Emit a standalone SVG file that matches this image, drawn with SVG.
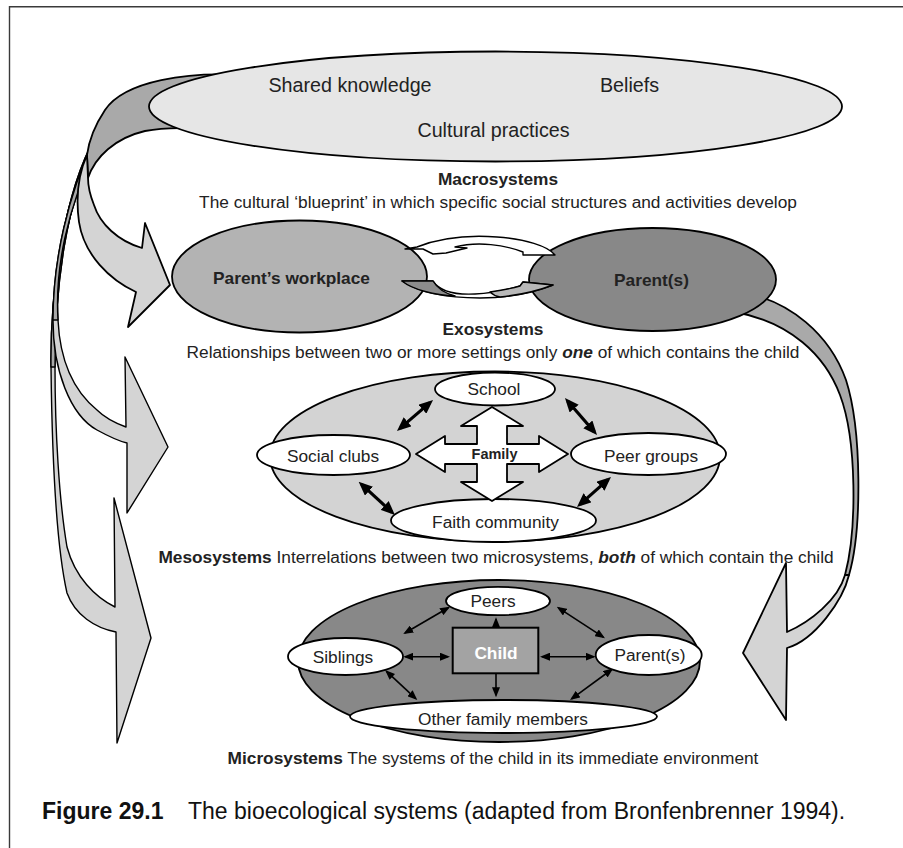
<svg xmlns="http://www.w3.org/2000/svg" width="903" height="848" viewBox="0 0 903 848">
<style>
text{font-family:"Liberation Sans",Arial,Helvetica,sans-serif;fill:#222}
.t17{font-size:17.3px}
.t19{font-size:19.7px}
.b{font-weight:bold}
.bi{font-weight:bold;font-style:italic}
.ol{stroke:#000;stroke-width:1.8;stroke-linejoin:round}
.thin{stroke:#000;stroke-width:1.4;stroke-linejoin:round}
.lite{fill:#d4d4d4}
.dark{fill:#a9a9a9}
.wh{fill:#fff}
.ma{stroke:#000;stroke-width:3.2;fill:none}
.mi{stroke:#000;stroke-width:1.6;fill:none}
</style>
<defs>
<marker id="hb" viewBox="0 0 14 12" markerWidth="14" markerHeight="12" refX="10" refY="6" orient="auto-start-reverse" markerUnits="userSpaceOnUse"><path d="M0,0 L14,6 L0,12 Z" fill="#000"/></marker>
<marker id="hs" viewBox="0 0 10 8" markerWidth="10" markerHeight="8" refX="8" refY="4" orient="auto-start-reverse" markerUnits="userSpaceOnUse"><path d="M0,0 L10,4 L0,8 Z" fill="#000"/></marker>
</defs>
<rect width="903" height="848" fill="#fff"/>
<path d="M9.5,860 L9.5,6.7 L910,6.7" fill="none" stroke="#3a3a3a" stroke-width="1.4"/>

<g id="connectors">
  <!-- left big curved arrows -->
  <g id="arrow-macro-micro">
    <path class="thin lite" d="M95,138 C65,190 50,290 51,367 C52,450 55,540 67,593 C75,615 95,628 116,632 L117,743 L151,638 L114,498 L115,607 C95,597 75,577 67,547 C59,500 55,430 55,367 C55,290 65,200 97,145 Z"/>
    <path class="thin dark" d="M95,138 C65,190 50,290 51,367 L55,367 C55,290 65,200 97,145 Z"/>
  </g>
  <g id="arrow-macro-meso">
    <path class="thin lite" d="M94,141 C68,195 53,260 53,320 C53,370 70,415 97,430 C108,436 118,441 127,443 L127,513 L168,447 L125,357 L126,427 C115,423 105,418 97,410 C75,392 60,362 58,320 C55,270 66,210 97,147 Z"/>
    <path class="thin dark" d="M94,141 C68,195 53,260 53,320 L58,320 C55,270 66,210 97,147 Z"/>
  </g>
  <g id="arrow-macro-exo">
    <path class="ol dark" d="M240,75 C190,72 125,80 105,110 C95,125 89,140 87,155 L88,178 C95,157 115,138 145,131 C170,126 205,128 240,133 Z"/>
    <path class="ol lite" d="M87,155 C78,175 76,200 79,222 C84,255 110,280 136,292 L128,327 L170,285 L145,223 L142,248 C118,241 100,224 94,205 C90,195 88,186 88,178 Z"/>
  </g>
  <!-- right curved arrow from Parent(s) to microsystem -->
  <g id="arrow-exo-micro">
    <path class="ol lite" d="M849,575 C843,600 815,640 787,648 L786,720 L743,653 L786,563 L787,632 C810,622 838,600 845,575 Z"/>
    <path class="ol dark" d="M740,292 C790,300 830,335 846,380 C862,430 862,530 849,575 L845,575 C857,530 857,440 840,395 C825,355 790,322 735,312 Z"/>
  </g>
</g>

<g id="macrosystem">
  <ellipse cx="495.5" cy="106.5" rx="346.5" ry="55" fill="#e6e6e6" stroke="#000" stroke-width="1.8"/>
  <text class="t19" x="350" y="92" text-anchor="middle">Shared knowledge</text>
  <text class="t19" x="629.5" y="92" text-anchor="middle">Beliefs</text>
  <text class="t19" x="493.5" y="136.5" text-anchor="middle">Cultural practices</text>
  <text class="t17 b" x="498" y="185" text-anchor="middle">Macrosystems</text>
  <text class="t17" x="498" y="208" text-anchor="middle">The cultural ‘blueprint’ in which specific social structures and activities develop</text>
</g>

<g id="workplace">
  <ellipse cx="299.5" cy="276.5" rx="127.5" ry="56" fill="#b3b3b3" stroke="#000" stroke-width="1.8"/>
  <text class="t17 b" x="291.5" y="284" text-anchor="middle">Parent’s workplace</text>
</g>
<g id="parents-exo">
  <ellipse cx="652.5" cy="279.5" rx="123.5" ry="51.5" fill="#888" stroke="#000" stroke-width="1.8"/>
  <text class="t17 b" x="651.5" y="286" text-anchor="middle">Parent(s)</text>
</g>

<g id="exo-cycle">
  <path class="thin wh" d="M555,255 L523,255 L523,252 C505,245 478,241 455,247 L467,248 L446,253 L433,254 L423,249 L405,249 L417,247 C440,238 470,235 497,237 C525,239 548,246 555,255 Z"/>
  <path class="thin wh" d="M402,281 L433,281 C440,292 455,295 475,294 C495,293 510,289 520,286 L523,282 L553,285 C535,292 510,298 480,298 C450,298 420,293 402,281 Z"/>
  <path class="thin" fill="#8c8c8c" d="M402,281 L433,281 C437,288 444,293 455,296 C435,295 413,290 402,281 Z"/>
  <path class="thin" fill="#b8b8b8" d="M490,292 C503,290 513,288 520,286 L523,282 L553,285 C540,290 520,295 500,297 C495,296 492,294 490,292 Z"/>
</g>

<g id="exo-label">
  <text class="t17 b" x="493" y="335" text-anchor="middle">Exosystems</text>
  <text class="t17" x="493" y="358" text-anchor="middle">Relationships between two or more settings only <tspan class="bi">one</tspan> of which contains the child</text>
</g>

<g id="mesosystem">
  <ellipse cx="495" cy="456.5" rx="225" ry="85" fill="#d3d3d3" stroke="#000" stroke-width="1.8"/>
</g>
<g id="school">
  <ellipse cx="495" cy="389" rx="60" ry="16.5" fill="#fff" stroke="#000" stroke-width="1.8"/>
  <text class="t17" x="494" y="394.5" text-anchor="middle">School</text>
</g>
<g id="social-clubs">
  <ellipse cx="333.5" cy="455" rx="76.5" ry="20" fill="#fff" stroke="#000" stroke-width="1.8"/>
  <text class="t17" x="333" y="461.5" text-anchor="middle">Social clubs</text>
</g>
<g id="peer-groups">
  <ellipse cx="648.5" cy="454" rx="77.5" ry="21" fill="#fff" stroke="#000" stroke-width="1.8"/>
  <text class="t17" x="651" y="461.5" text-anchor="middle">Peer groups</text>
</g>
<g id="faith-community">
  <ellipse cx="493.5" cy="520.5" rx="102.5" ry="21.5" fill="#fff" stroke="#000" stroke-width="1.8"/>
  <text class="t17" x="495.5" y="527.5" text-anchor="middle">Faith community</text>
</g>
<g id="family">
  <path class="ol wh" d="M492,407 L523,426 L507,426 L507,444 L539,444 L539,436 L568,454 L539,472 L539,464 L507,464 L507,482 L523,482 L492,501 L461,482 L477,482 L477,464 L445,464 L445,472 L416,454 L445,436 L445,444 L477,444 L477,426 L461,426 Z"/>
  <text class="b" x="494.5" y="459" text-anchor="middle" font-size="14.5">Family</text>
</g>
<g id="meso-links">
  <line class="ma" x1="400" y1="428.4" x2="430" y2="402.6" marker-start="url(#hb)" marker-end="url(#hb)"/>
  <line class="ma" x1="567.6" y1="401" x2="594.4" y2="432" marker-start="url(#hb)" marker-end="url(#hb)"/>
  <line class="ma" x1="361.6" y1="484.4" x2="392" y2="512.3" marker-start="url(#hb)" marker-end="url(#hb)"/>
  <line class="ma" x1="580" y1="504.4" x2="608" y2="479.6" marker-start="url(#hb)" marker-end="url(#hb)"/>
</g>
<g id="meso-label">
  <text class="t17" x="496" y="563" text-anchor="middle"><tspan class="b">Mesosystems</tspan> Interrelations between two microsystems, <tspan class="bi">both</tspan> of which contain the child</text>
</g>

<g id="microsystem">
  <ellipse cx="499" cy="661" rx="201" ry="81" fill="#888" stroke="#000" stroke-width="1.8"/>
</g>
<g id="micro-links">
  <line class="mi" x1="448.3" y1="607.7" x2="405" y2="633" marker-start="url(#hs)" marker-end="url(#hs)"/>
  <line class="mi" x1="558.4" y1="607.8" x2="603.3" y2="637.2" marker-start="url(#hs)" marker-end="url(#hs)"/>
  <line class="mi" x1="405.3" y1="656.7" x2="448" y2="656.7" marker-start="url(#hs)" marker-end="url(#hs)"/>
  <line class="mi" x1="542" y1="656.7" x2="593.7" y2="656.7" marker-start="url(#hs)" marker-end="url(#hs)"/>
  <line class="mi" x1="496" y1="627.7" x2="496" y2="619.3" marker-end="url(#hs)"/>
  <line class="mi" x1="496" y1="673.3" x2="496" y2="695.3" marker-end="url(#hs)"/>
  <line class="mi" x1="386.5" y1="671.4" x2="415.8" y2="698.6" marker-start="url(#hs)" marker-end="url(#hs)"/>
  <line class="mi" x1="611.7" y1="669.5" x2="571.6" y2="698.8" marker-start="url(#hs)" marker-end="url(#hs)"/>
</g>
<g id="peers">
  <ellipse cx="498" cy="601" rx="52" ry="14.2" fill="#fff" stroke="#000" stroke-width="1.8"/>
  <text class="t17" x="493" y="606.5" text-anchor="middle">Peers</text>
</g>
<g id="siblings">
  <ellipse cx="345.5" cy="656.5" rx="57.5" ry="18.5" fill="#fff" stroke="#000" stroke-width="1.8"/>
  <text class="t17" x="343" y="662.5" text-anchor="middle">Siblings</text>
</g>
<g id="parents-micro">
  <ellipse cx="648.7" cy="655" rx="53" ry="20" fill="#fff" stroke="#000" stroke-width="1.8"/>
  <text class="t17" x="650" y="660.5" text-anchor="middle">Parent(s)</text>
</g>
<g id="other-family">
  <ellipse cx="503.5" cy="716.5" rx="153.5" ry="16.5" fill="#fff" stroke="#000" stroke-width="1.8"/>
  <text class="t17" x="503" y="724.5" text-anchor="middle">Other family members</text>
</g>
<g id="child">
  <rect x="452.7" y="627.7" width="85.6" height="45.6" fill="#a3a3a3" stroke="#000" stroke-width="2"/>
  <text class="t17 b" x="496" y="659" text-anchor="middle" style="fill:#fff">Child</text>
</g>
<g id="micro-label">
  <text class="t17" x="493" y="764" text-anchor="middle"><tspan class="b">Microsystems</tspan> The systems of the child in its immediate environment</text>
</g>

<g id="caption">
  <text x="42" y="819" font-size="23" style="fill:#111"><tspan font-weight="bold">Figure 29.1</tspan></text>
  <text x="188" y="819" font-size="23" style="fill:#111">The bioecological systems (adapted from Bronfenbrenner 1994).</text>
</g>
</svg>
